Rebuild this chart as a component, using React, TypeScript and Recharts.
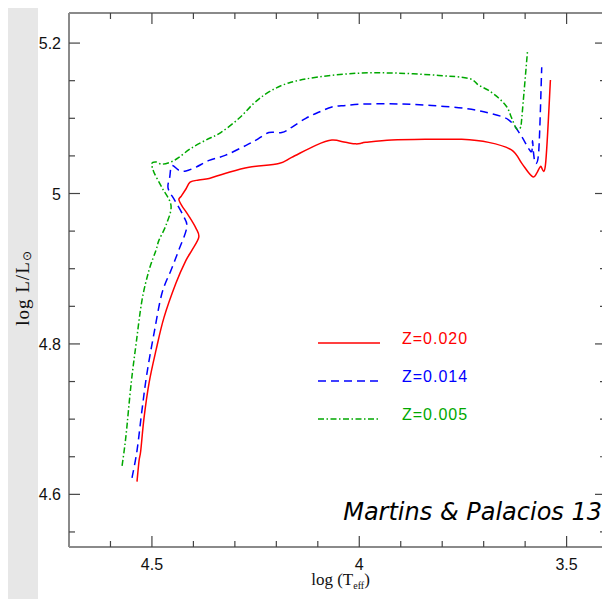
import { LineChart, Line, XAxis, YAxis, Legend, Label } from 'recharts'

// evolutionary tracks, log Teff and log L/Lsun
const teffZ020 = [
  4.536, 4.531, 4.527, 4.519, 4.507, 4.49, 4.471, 4.442, 4.418, 4.403, 4.387, 4.394, 4.411, 4.428,
  4.435, 4.43, 4.418, 4.408, 4.387, 4.362, 4.322, 4.266, 4.194, 4.163, 4.105, 4.066, 4.033, 4.008,
  3.994, 3.984, 3.922, 3.84, 3.753, 3.688, 3.633, 3.608, 3.592, 3.58, 3.572, 3.563, 3.551, 3.539,
]
const lumZ020 = [
  4.617, 4.645, 4.658, 4.702, 4.748, 4.792, 4.835, 4.881, 4.911, 4.925, 4.942, 4.954, 4.97, 4.984,
  4.992, 4.996, 5.006, 5.015, 5.018, 5.02, 5.027, 5.035, 5.04, 5.048, 5.064, 5.071, 5.068, 5.066,
  5.067, 5.068, 5.071, 5.072, 5.072, 5.068, 5.058, 5.04, 5.028, 5.022, 5.027, 5.036, 5.038, 5.151,
]

const teffZ014 = [
  4.548, 4.536, 4.524, 4.512, 4.495, 4.476, 4.454, 4.435, 4.416, 4.425, 4.445, 4.461, 4.457, 4.452,
  4.435, 4.418, 4.394, 4.362, 4.322, 4.273, 4.249, 4.218, 4.187, 4.163, 4.129, 4.098, 4.066, 4.033,
  3.984, 3.905, 3.825, 3.743, 3.688, 3.64, 3.611, 3.592, 3.584, 3.582, 3.58, 3.575, 3.567, 3.56,
]
const lumZ014 = [
  4.622, 4.658, 4.712, 4.761, 4.814, 4.867, 4.898, 4.925, 4.955, 4.971, 4.991, 5.007, 5.022, 5.037,
  5.031, 5.03, 5.035, 5.044, 5.051, 5.064, 5.071, 5.081, 5.081, 5.088, 5.1, 5.108, 5.115, 5.117,
  5.119, 5.119, 5.117, 5.113, 5.107, 5.098, 5.078, 5.06, 5.056, 5.07, 5.055, 5.04, 5.058, 5.168,
]

const teffZ005 = [
  4.572, 4.567, 4.562, 4.55, 4.538, 4.524, 4.507, 4.49, 4.483, 4.466, 4.454, 4.476, 4.495, 4.5,
  4.49, 4.476, 4.454, 4.435, 4.406, 4.37, 4.334, 4.29, 4.254, 4.218, 4.17, 4.098, 4.001, 3.905,
  3.808, 3.736, 3.712, 3.688, 3.664, 3.644, 3.633, 3.623, 3.618, 3.611, 3.608, 3.594,
]
const lumZ005 = [
  4.638, 4.658, 4.681, 4.748, 4.801, 4.858, 4.898, 4.925, 4.938, 4.958, 4.984, 5.008, 5.028, 5.04,
  5.042, 5.039, 5.042, 5.048, 5.06, 5.071, 5.081, 5.1, 5.12, 5.135, 5.147, 5.155, 5.16, 5.16,
  5.157, 5.153, 5.144, 5.137, 5.127, 5.115, 5.101, 5.088, 5.085, 5.088, 5.101, 5.191,
]

const xTicks = [3.5, 3.6, 3.7, 3.8, 3.9, 4.0, 4.1, 4.2, 4.3, 4.4, 4.5, 4.6]
const xMajor = [3.5, 4.0, 4.5]
const yTicks = [4.55, 4.6, 4.65, 4.7, 4.75, 4.8, 4.85, 4.9, 4.95, 5.0, 5.05, 5.1, 5.15, 5.2]
const yMajor = [4.6, 4.8, 5.0, 5.2]

const toPoints = (t: number[], l: number[]) => t.map((v, i) => ({ t: v, l: l[i] }))

const series = [
  { name: 'Z=0.020', color: '#ff0000', dash: undefined, data: toPoints(teffZ020, lumZ020) },
  { name: 'Z=0.014', color: '#0000ff', dash: '8 5', data: toPoints(teffZ014, lumZ014) },
  { name: 'Z=0.005', color: '#00a800', dash: '6 2.5 1.5 2.5', data: toPoints(teffZ005, lumZ005) },
]

const TICK = '#444'
const FRAME = '#8a8a8a'
const fmt = (v: number) => Number(v.toFixed(2)).toString()

// catmull-rom through the points; the tracks double back in x so monotone won't do
function smoothCurve(context: any) {
  let pts: number[][] = []
  return {
    areaStart() {},
    areaEnd() {},
    lineStart() {
      pts = []
    },
    point(x: number, y: number) {
      pts.push([+x, +y])
    },
    lineEnd() {
      if (!pts.length) return
      context.moveTo(pts[0][0], pts[0][1])
      for (let i = 0; i < pts.length - 1; i++) {
        const p0 = pts[i - 1] || pts[i]
        const p1 = pts[i]
        const p2 = pts[i + 1]
        const p3 = pts[i + 2] || p2
        context.bezierCurveTo(
          p1[0] + (p2[0] - p0[0]) / 6,
          p1[1] + (p2[1] - p0[1]) / 6,
          p2[0] - (p3[0] - p1[0]) / 6,
          p2[1] - (p3[1] - p1[1]) / 6,
          p2[0],
          p2[1],
        )
      }
    },
  }
}

function BottomTick({ x, y, payload }: any) {
  const major = xMajor.includes(payload.value)
  return (
    <g>
      <line x1={x} x2={x} y1={y} y2={y - (major ? 11 : 6)} stroke={TICK} strokeWidth={1.2} />
      {major && (
        <text x={x} y={y + 23} textAnchor="middle" fontSize={16} fontFamily="Liberation Sans, Arial" fill="#111">
          {fmt(payload.value)}
        </text>
      )}
    </g>
  )
}

function TopTick({ x, y, payload }: any) {
  const major = xMajor.includes(payload.value)
  return <line x1={x} x2={x} y1={y} y2={y + (major ? 11 : 6)} stroke={TICK} strokeWidth={1.2} />
}

function LeftTick({ x, y, payload }: any) {
  const major = yMajor.includes(payload.value)
  return (
    <g>
      <line x1={x} x2={x + (major ? 11 : 6)} y1={y} y2={y} stroke={TICK} strokeWidth={1.2} />
      {major && (
        <text x={x - 8} y={y + 6} textAnchor="end" fontSize={16} fontFamily="Liberation Sans, Arial" fill="#111">
          {fmt(payload.value)}
        </text>
      )}
    </g>
  )
}

function RightTick({ x, y, payload }: any) {
  const major = yMajor.includes(payload.value)
  return <line x1={x} x2={x - (major ? 11 : 6)} y1={y} y2={y} stroke={TICK} strokeWidth={1.2} />
}

function LegendBox() {
  return (
    <svg width={170} height={114}>
      {series.map((s, i) => {
        const cy = 19 + i * 38
        return (
          <g key={s.name}>
            <line x1={0} x2={62} y1={cy} y2={cy} stroke={s.color} strokeWidth={1.5} strokeDasharray={s.dash} />
            <text x={84} y={cy - 5} dominantBaseline="central" fontSize={16} letterSpacing={1}
              fontFamily="Liberation Sans, Arial" fill={s.color}>
              {s.name}
            </text>
          </g>
        )
      })}
    </svg>
  )
}

export default function App() {
  return (
    <div style={{ position: 'relative', width: 610, height: 607, margin: -8, background: '#e7e7e7', overflow: 'hidden' }}>
      <div style={{ position: 'absolute', left: 38, top: 4, width: 572, height: 596, background: '#fff' }} />
      <div style={{ position: 'absolute', left: 0, top: 0 }}>
        <LineChart width={610} height={607} margin={{ top: 0, right: 0, bottom: 0, left: 8 }}>
          <XAxis
            dataKey="t"
            type="number"
            domain={[3.405, 4.7]}
            reversed
            allowDataOverflow
            ticks={xTicks}
            interval={0}
            tickSize={0}
            tickMargin={0}
            tickLine={false}
            tick={<BottomTick />}
            axisLine={{ stroke: FRAME, strokeWidth: 2 }}
            height={60}
          >
            <Label
              content={({ viewBox }: any) => (
                <text x={viewBox.x + viewBox.width / 2 + 3} y={viewBox.y + 38} textAnchor="middle"
                  fontSize={17} fontFamily="Liberation Serif, serif" fill="#111">
                  log (T<tspan dy={4} fontSize={10}>eff</tspan><tspan dy={-4}>)</tspan>
                </text>
              )}
            />
          </XAxis>
          <XAxis
            xAxisId="top"
            orientation="top"
            dataKey="t"
            type="number"
            domain={[3.405, 4.7]}
            reversed
            allowDataOverflow
            ticks={xTicks}
            interval={0}
            tickSize={0}
            tickMargin={0}
            tickLine={false}
            tick={<TopTick />}
            axisLine={{ stroke: FRAME, strokeWidth: 2 }}
            height={13}
          />
          <YAxis
            dataKey="l"
            type="number"
            domain={[4.53, 5.24]}
            allowDataOverflow
            ticks={yTicks}
            interval={0}
            tickSize={0}
            tickMargin={0}
            tickLine={false}
            tick={<LeftTick />}
            axisLine={{ stroke: FRAME, strokeWidth: 2 }}
            width={61}
          >
            <Label
              content={({ viewBox }: any) => {
                const cx = viewBox.x + 14
                const cy = viewBox.y + viewBox.height / 2 + 8
                return (
                  <text x={cx} y={cy} transform={`rotate(-90, ${cx}, ${cy})`} textAnchor="middle"
                    dominantBaseline="central" fontSize={19} letterSpacing={1}
                    fontFamily="Liberation Serif, serif" fill="#111">
                    log  L/L<tspan dy={5} fontSize={12}>⊙</tspan>
                  </text>
                )
              }}
            />
          </YAxis>
          <YAxis
            yAxisId="right"
            orientation="right"
            dataKey="l"
            type="number"
            domain={[4.53, 5.24]}
            allowDataOverflow
            ticks={yTicks}
            interval={0}
            tickSize={0}
            tickMargin={0}
            tickLine={false}
            tick={<RightTick />}
            axisLine={{ stroke: FRAME, strokeWidth: 2 }}
            width={4}
          />
          <Legend
            layout="vertical"
            align="center"
            verticalAlign="middle"
            wrapperStyle={{ left: 318, top: 324, width: 170, height: 114 }}
            content={<LegendBox />}
          />
          {series.map((s) => (
            <Line
              key={s.name}
              data={s.data}
              dataKey="l"
              name={s.name}
              type={smoothCurve as any}
              stroke={s.color}
              strokeWidth={1.5}
              strokeDasharray={s.dash}
              dot={false}
              activeDot={false}
              isAnimationActive={false}
            />
          ))}
        </LineChart>
      </div>
      <div
        style={{
          position: 'absolute', right: 8, top: 498, fontFamily: 'DejaVu Sans, sans-serif',
          fontStyle: 'italic', fontSize: 24, color: '#000', whiteSpace: 'nowrap',
        }}
      >
        Martins &amp; Palacios 13
      </div>
    </div>
  )
}
